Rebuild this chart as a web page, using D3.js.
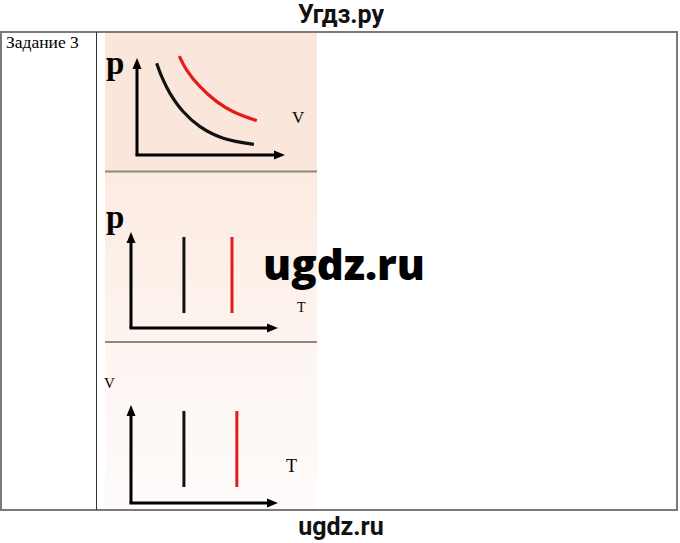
<!DOCTYPE html>
<html><head><meta charset="utf-8">
<script src="https://cdn.jsdelivr.net/npm/d3@7/dist/d3.min.js"></script>
<style>html,body{margin:0;padding:0;background:#fff;}svg{display:block;}</style>
</head><body>
<script>
// ---- data (arbitrary units 0..10) ----
const title = "Угдз.ру";
const footer = "ugdz.ru";
const watermark = "ugdz.ru";
const taskLabel = "Задание 3";
// panel 1: p–V isotherms
const isoBlack = [[1.33,9.45],[1.67,8.07],[2.23,6.36],[3.13,4.46],[4.26,2.92],[5.83,1.72],[7.9,1.1]];
const isoRed   = [[2.86,10.2],[3.36,8.76],[4.26,7.04],[5.39,5.5],[6.51,4.46],[8.09,3.54]];
// panel 2: p–T verticals  [T, pLow, pHigh]
const pT = [{T:3.6,lo:1.56,hi:9.48,c:"black"},{T:6.87,lo:1.56,hi:9.48,c:"red"}];
// panel 3: V–T verticals
const VT = [{T:3.6,lo:1.63,hi:9.39,c:"black"},{T:7.2,lo:1.63,hi:9.39,c:"red"}];
const panelLabels = [{y:"p",x:"V"},{y:"p",x:"T"},{y:"V",x:"T"}];

const W=680,H=543;
const svg=d3.select("body").append("svg").attr("width",W).attr("height",H);
const defs=svg.append("defs");
const grad=defs.append("linearGradient").attr("id","g2").attr("x1",0).attr("y1",0).attr("x2",0).attr("y2",1);
grad.append("stop").attr("offset","0").attr("stop-color","#fcebe1");
grad.append("stop").attr("offset","1").attr("stop-color","#fdf4ef");
const grad3=defs.append("linearGradient").attr("id","g3").attr("x1",0).attr("y1",0).attr("x2",0).attr("y2",1);
grad3.append("stop").attr("offset","0").attr("stop-color","#fdf5f2");
grad3.append("stop").attr("offset","1").attr("stop-color","#fefbfa");

// backgrounds
svg.append("rect").attr("x",105).attr("y",33).attr("width",212).attr("height",138).attr("fill","#fae6da");
svg.append("rect").attr("x",105).attr("y",172).attr("width",212).attr("height",169).attr("fill","url(#g2)");
svg.append("rect").attr("x",105).attr("y",343).attr("width",212).attr("height",166).attr("fill","url(#g3)");
// separators
[171.5,342].forEach(y=>svg.append("line").attr("x1",105).attr("x2",317).attr("y1",y).attr("y2",y)
  .attr("stroke","#8d8882").attr("stroke-width",2));

// table borders
const tb=svg.append("g").attr("fill","none").attr("stroke","#7a7a7a").attr("stroke-width",2);
tb.append("rect").attr("x",1).attr("y",32).attr("width",676).attr("height",478);
svg.append("line").attr("x1",96.5).attr("x2",96.5).attr("y1",32).attr("y2",510).attr("stroke","#333").attr("stroke-width",1);

svg.append("text").attr("x",6).attr("y",48).attr("font-family","Liberation Serif").attr("font-size",17.5).attr("fill","#000").text(taskLabel);

// title & footer
svg.append("text").attr("x",341).attr("y",23).attr("text-anchor","middle").attr("font-family","Roboto").attr("font-weight","bold")
  .attr("font-size",25).attr("fill","#111").text(title);
svg.append("text").attr("x",341).attr("y",535).attr("text-anchor","middle").attr("font-family","Roboto").attr("font-weight","bold")
  .attr("font-size",25).attr("fill","#111").text(footer);

function axes(g,ox,oy,tx,ty){
  g.append("line").attr("x1",ox).attr("y1",oy).attr("x2",ox).attr("y2",ty+8).attr("stroke","#000").attr("stroke-width",3);
  g.append("line").attr("x1",ox-1.5).attr("y1",oy).attr("x2",tx-8).attr("y2",oy).attr("stroke","#000").attr("stroke-width",3);
  g.append("path").attr("d",`M${ox},${ty}L${ox-4.5},${ty+11}L${ox+4.5},${ty+11}Z`).attr("fill","#000");
  g.append("path").attr("d",`M${tx},${oy}L${tx-11},${oy-4.5}L${tx-11},${oy+4.5}Z`).attr("fill","#000");
}

// panel 1
{
  const g=svg.append("g");
  const x=d3.scaleLinear().domain([0,10]).range([137,285]);
  const y=d3.scaleLinear().domain([0,10]).range([155,58]);
  axes(g,x(0),y(0),x(10),y(10));
  const line=d3.line().x(d=>x(d[0])).y(d=>y(d[1])).curve(d3.curveCatmullRom);
  g.append("path").attr("d",line(isoBlack)).attr("fill","none").attr("stroke","#111").attr("stroke-width",3.2);
  g.append("path").attr("d",line(isoRed)).attr("fill","none").attr("stroke","#e31b1b").attr("stroke-width",3.2);
  g.append("text").attr("x",106).attr("y",74).attr("font-family","Liberation Serif").attr("font-weight","bold").attr("font-size",33).text(panelLabels[0].y);
  g.append("text").attr("x",292).attr("y",123).attr("font-family","Liberation Serif").attr("font-size",17).text(panelLabels[0].x);
}
// panel 2
{
  const g=svg.append("g");
  const x=d3.scaleLinear().domain([0,10]).range([131,278]);
  const y=d3.scaleLinear().domain([0,10]).range([328,232]);
  axes(g,x(0),y(0),x(10),y(10));
  g.selectAll("line.v").data(pT).join("line").attr("x1",d=>x(d.T)).attr("x2",d=>x(d.T)).attr("y1",d=>y(d.lo)).attr("y2",d=>y(d.hi))
    .attr("stroke",d=>d.c==="red"?"#e31b1b":"#111").attr("stroke-width",3);
  g.append("text").attr("x",106).attr("y",228).attr("font-family","Liberation Serif").attr("font-weight","bold").attr("font-size",33).text(panelLabels[1].y);
  g.append("text").attr("x",297).attr("y",312).attr("font-family","Liberation Serif").attr("font-size",14).text(panelLabels[1].x);
}
// panel 3
{
  const g=svg.append("g");
  const x=d3.scaleLinear().domain([0,10]).range([131,278]);
  const y=d3.scaleLinear().domain([0,10]).range([503,405]);
  axes(g,x(0),y(0),x(10),y(10));
  g.selectAll("line.v").data(VT).join("line").attr("x1",d=>x(d.T)).attr("x2",d=>x(d.T)).attr("y1",d=>y(d.lo)).attr("y2",d=>y(d.hi))
    .attr("stroke",d=>d.c==="red"?"#e31b1b":"#111").attr("stroke-width",3);
  g.append("text").attr("x",104).attr("y",388).attr("font-family","Liberation Serif").attr("font-size",15).text(panelLabels[2].y);
  g.append("text").attr("x",286).attr("y",472).attr("font-family","Liberation Serif").attr("font-size",18).text(panelLabels[2].x);
}

// watermark
svg.append("text").attr("x",344).attr("y",280).attr("text-anchor","middle").attr("font-family","Open Sans").attr("font-weight","800")
  .attr("font-size",42).attr("fill","#000").text(watermark);
</script>
</body></html>
